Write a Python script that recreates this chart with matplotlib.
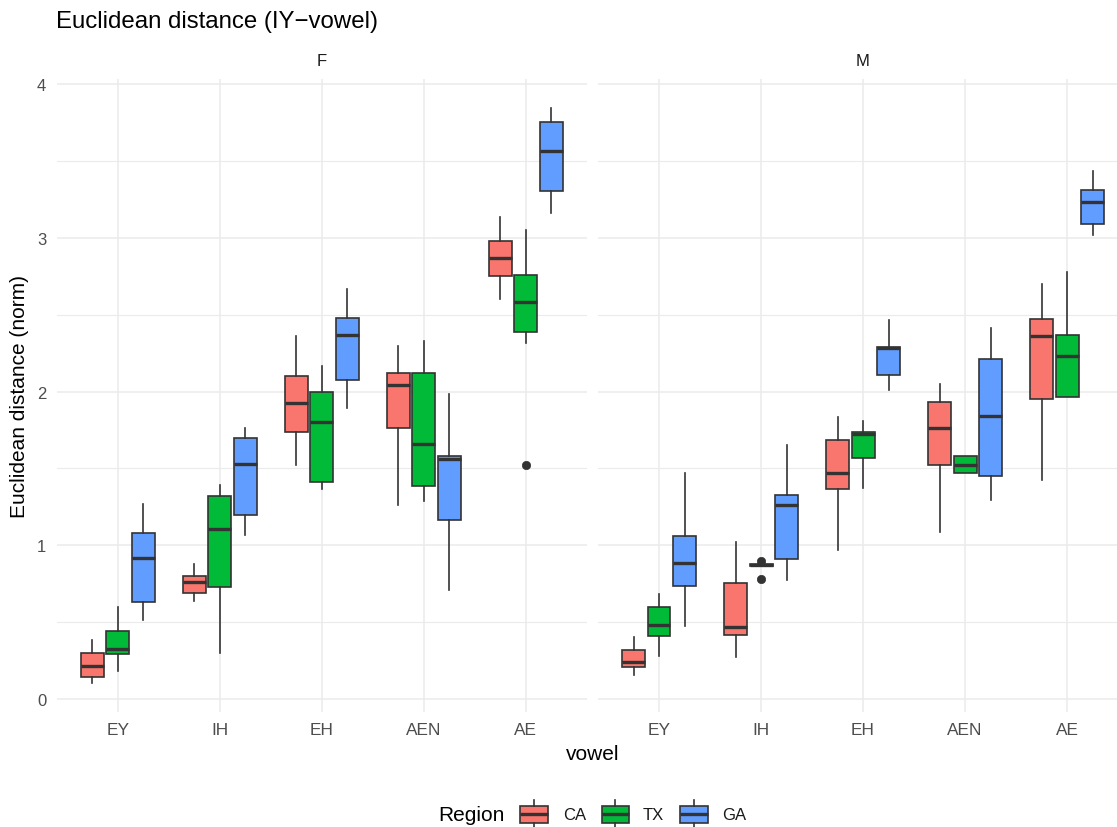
import matplotlib
matplotlib.use("Agg")
import matplotlib.pyplot as plt
from matplotlib.patches import Rectangle

plt.rcParams['font.family'] = ['Liberation Sans', 'DejaVu Sans']

vowels = ["EY", "IH", "EH", "AEN", "AE"]
regions = ["CA", "TX", "GA"]
colors = ["#F8766D", "#00BA38", "#619CFF"]

# per vowel: (whisker low, q1, median, q3, whisker high)
f_ca = [(0.102, 0.143, 0.213, 0.300, 0.386), (0.636, 0.690, 0.758, 0.800, 0.879),
        (1.524, 1.737, 1.928, 2.100, 2.360), (1.264, 1.763, 2.041, 2.124, 2.295),
        (2.601, 2.754, 2.873, 2.982, 3.140)]
f_tx = [(0.180, 0.291, 0.324, 0.441, 0.600), (0.300, 0.728, 1.105, 1.320, 1.394),
        (1.364, 1.412, 1.803, 1.998, 2.165), (1.290, 1.386, 1.657, 2.124, 2.330),
        (2.317, 2.389, 2.584, 2.758, 3.049)]
f_ga = [(0.513, 0.630, 0.916, 1.083, 1.272), (1.064, 1.200, 1.530, 1.698, 1.761),
        (1.894, 2.076, 2.371, 2.482, 2.671), (0.710, 1.166, 1.561, 1.583, 1.987),
        (3.162, 3.305, 3.566, 3.757, 3.848)]
m_ca = [(0.156, 0.210, 0.239, 0.321, 0.400), (0.271, 0.413, 0.471, 0.756, 1.021),
        (0.972, 1.367, 1.470, 1.687, 1.836), (1.086, 1.521, 1.761, 1.930, 2.049),
        (1.422, 1.953, 2.362, 2.474, 2.702)]
m_tx = [(0.278, 0.410, 0.480, 0.599, 0.684), (0.868, 0.868, 0.874, 0.880, 0.880),
        (1.372, 1.569, 1.722, 1.738, 1.811), (1.468, 1.468, 1.521, 1.580, 1.580),
        (1.962, 1.962, 2.231, 2.369, 2.778)]
m_ga = [(0.476, 0.732, 0.886, 1.062, 1.468), (0.771, 0.914, 1.264, 1.329, 1.655),
        (2.012, 2.108, 2.286, 2.293, 2.465), (1.292, 1.452, 1.843, 2.211, 2.417),
        (3.022, 3.093, 3.235, 3.310, 3.434)]

# outliers keyed by (region, vowel)
f_outliers = {("TX", "AE"): [1.524]}
m_outliers = {("TX", "IH"): [0.780, 0.895]}

panels = [("F", [f_ca, f_tx, f_ga], f_outliers),
          ("M", [m_ca, m_tx, m_ga], m_outliers)]

W, H = 1117, 828
fig = plt.figure(figsize=(W / 100, H / 100), dpi=100)
fig.patch.set_facecolor("white")

edge = "#333333"
grid_c = "#EBEBEB"
offsets = [-0.25, 0.0, 0.25]
box_w = 0.225
lw = 1.2

panel_left = [56.5, 597.8]
panel_w = 530.5
top_px, bot_px = 80, 713

for p, (name, series, outl) in enumerate(panels):
    ax = fig.add_axes([panel_left[p] / W, 1 - bot_px / H, panel_w / W, (bot_px - top_px) / H])
    ax.set_facecolor("none")
    for s in ax.spines.values():
        s.set_visible(False)
    for r, (reg, data, col) in enumerate(zip(regions, series, colors)):
        stats = []
        pos = []
        for i, v in enumerate(vowels):
            lo, q1, med, q3, hi = data[i]
            stats.append(dict(whislo=lo, q1=q1, med=med, q3=q3, whishi=hi,
                              fliers=outl.get((reg, v), [])))
            pos.append(i + 1 + offsets[r])
        ax.bxp(stats, positions=pos, widths=box_w, patch_artist=True,
               showcaps=False, manage_ticks=False,
               boxprops=dict(facecolor=col, edgecolor=edge, linewidth=lw),
               medianprops=dict(color=edge, linewidth=2.4, solid_capstyle="butt"),
               whiskerprops=dict(color=edge, linewidth=lw),
               flierprops=dict(marker="o", markerfacecolor=edge, markeredgecolor=edge,
                               markersize=6.0, markeredgewidth=0.5))
    ax.set_xlim(0.4, 5.6)
    ax.set_ylim(-0.085, 4.035)
    ax.set_xticks(range(1, 6))
    ax.set_xticklabels(vowels)
    ax.set_yticks([0, 1, 2, 3, 4])
    ax.set_yticks([0.5, 1.5, 2.5, 3.5], minor=True)
    ax.grid(which="major", color=grid_c, linewidth=1.1, zorder=0)
    ax.grid(which="minor", axis="y", color=grid_c, linewidth=0.8, zorder=0)
    ax.set_axisbelow(True)
    ax.tick_params(which="both", length=0, labelsize=12, labelcolor="#4D4D4D", pad=7.4)
    ax.tick_params(axis="x", labelsize=12.4)
    if p == 1:
        ax.tick_params(axis="y", labelleft=False)
    cx = (panel_left[p] + panel_w / 2) / W
    fig.text(cx, 1 - 62 / H, name, ha="center", va="center", fontsize=12, color="#1A1A1A")

fig.text(56.5 / W, 1 - 22 / H, "Euclidean distance (IY\u2212vowel)", ha="left", va="center",
         fontsize=17.3, color="black")
fig.text(593 / W, 1 - 755 / H, "vowel", ha="center", va="center", fontsize=15, color="black")
fig.text(20 / W, 1 - 396.5 / H, "Euclidean distance (norm)", ha="center", va="center",
         rotation=90, fontsize=15, color="black")

# legend drawn in pixel coordinates
ov = fig.add_axes([0, 0, 1, 1])
ov.set_xlim(0, W)
ov.set_ylim(H, 0)
ov.axis("off")
ov.set_facecolor("none")
ly = 815.2
ov.text(438, ly, "Region", ha="left", va="center", fontsize=15, color="black")
key_x = [520, 601.7, 680]
lab_x = [562.7, 642.7, 721.7]
for kx, tx, reg, col in zip(key_x, lab_x, regions, colors):
    kw = 27.5
    ov.add_patch(Rectangle((kx, ly - 8.5), kw, 17, facecolor=col, edgecolor=edge, linewidth=lw))
    ov.plot([kx, kx + kw], [ly, ly], color=edge, linewidth=2.4, solid_capstyle="butt")
    ov.plot([kx + kw / 2, kx + kw / 2], [ly - 14.5, ly - 8.5], color=edge, linewidth=lw)
    ov.plot([kx + kw / 2, kx + kw / 2], [ly + 8.5, ly + 14.5], color=edge, linewidth=lw)
    ov.text(tx, ly, reg, ha="left", va="center", fontsize=12, color="#1A1A1A")

fig.savefig("out.png", dpi=100, facecolor="white")
